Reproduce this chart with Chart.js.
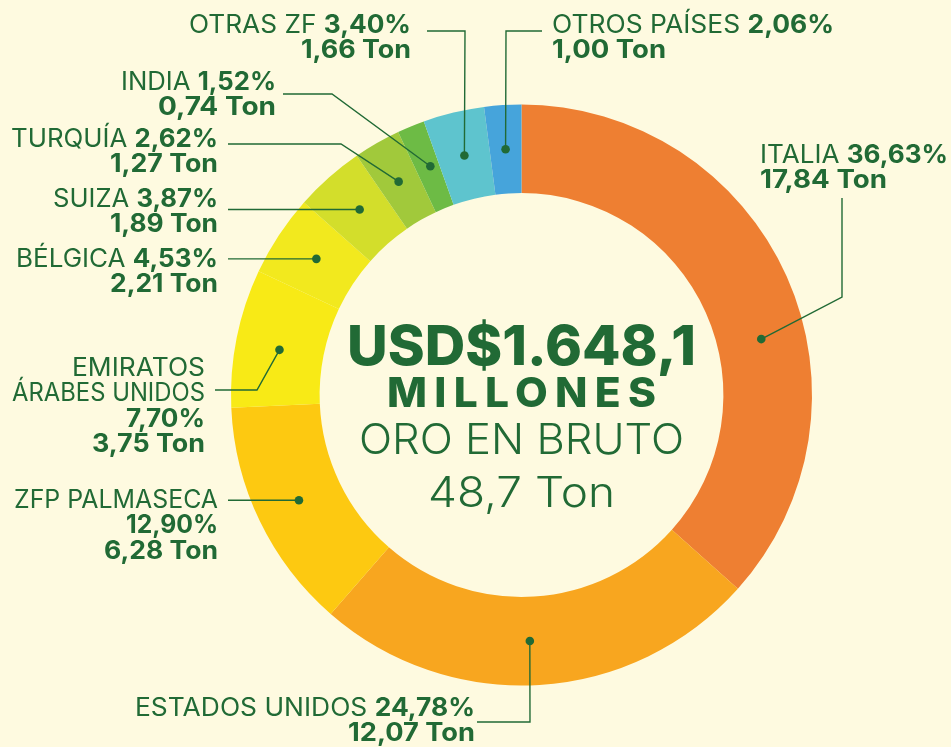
<!DOCTYPE html>
<html><head><meta charset="utf-8">
<script src="https://cdn.jsdelivr.net/npm/chart.js@4"></script>
<style>html,body{margin:0;padding:0;background:#FEFAE0;}canvas{display:block;}</style>
</head><body>
<canvas id="c" width="951" height="747"></canvas>
<script>
const categories = ['ITALIA', 'ESTADOS UNIDOS', 'ZFP PALMASECA', 'EMIRATOS ÁRABES UNIDOS', 'BÉLGICA', 'SUIZA', 'TURQUÍA', 'INDIA', 'OTRAS ZF', 'OTROS PAÍSES'];
const percentages = [36.63, 24.78, 12.90, 7.70, 4.53, 3.87, 2.62, 1.52, 3.40, 2.06];
const tons = [17.84, 12.07, 6.28, 3.75, 2.21, 1.89, 1.27, 0.74, 1.66, 1.00];
const sliceColors = ['#EE7F32', '#F8A61F', '#FDC911', '#F8EA16', '#F2E91E', '#D3DE2B', '#A1C93B', '#6DBB45', '#5EC4CE', '#46A4DB'];
const centerLines = ['USD$1.648,1', 'MILLONES', 'ORO EN BRUTO', '48,7 Ton'];

const GREEN = '#216A35';
const FONT = 'Inter, "Open Sans", sans-serif';
const fmt = v => v.toFixed(2).replace('.', ',');

// layout for annotation labels (positions only)
const labelLayout = [
  {align:'left',  x:760, y:163, w:[188,127], lead:[[842,198],[842,297]], frac:0.583},
  {align:'right', x:475, y:716, w:[340,127], lead:[[477,722],[530,722]], frac:0.518},
  {align:'right', x:218, y:508, mode:3, w:[204,92,114], lead:[[228,null]], frac:0.509},
  {align:'right', x:205, y:376, mode:4, w:[133,193,79,113], lead:[[215,390],[257,390]], frac:0.472},
  {align:'right', x:218, y:267, w:[202,108], lead:[[228,null]], frac:0.513},
  {align:'right', x:218, y:207, w:[165,108], lead:[[228,null]], frac:0.53},
  {align:'right', x:218, y:147, w:[207,108], lead:[[228,144],[341,144]], frac:0.49},
  {align:'right', x:276, y:90,  w:[155,118], lead:[[283,94],[332,94]], frac:0.62},
  {align:'right', x:411, y:33,  w:[222,110], lead:[[427,31],[465,31]], frac:0.51},
  {align:'left',  x:552, y:33,  w:[282,114], lead:[[542,31],[506,31]], frac:0.5}
];

function buildLines(i, mode) {
  const p = fmt(percentages[i]) + '%';
  const t = fmt(tons[i]) + ' Ton';
  if (mode === 4) {
    const parts = categories[i].split(' ');
    return [[{t:parts[0], b:false}], [{t:parts.slice(1).join(' '), b:false}], [{t:p, b:true}], [{t:t, b:true}]];
  }
  if (mode === 3) {
    return [[{t:categories[i], b:false}], [{t:p, b:true}], [{t:t, b:true}]];
  }
  return [[{t:categories[i] + ' ', b:false}, {t:p, b:true}], [{t:t, b:true}]];
}

function segFont(b, size) { return (b ? '700 ' : '400 ') + size + 'px ' + FONT; }

function drawFitted(ctx, segs, x, y, align, target, size) {
  let total = 0;
  const widths = segs.map(s => { ctx.font = segFont(s.b, size); const w = ctx.measureText(s.t).width; total += w; return w; });
  const sx = target / total;
  const left = align === 'right' ? x - target : (align === 'center' ? x - target / 2 : x);
  ctx.save();
  ctx.translate(left, y);
  ctx.scale(sx, 1);
  ctx.textAlign = 'left';
  ctx.textBaseline = 'alphabetic';
  ctx.fillStyle = GREEN;
  let cx = 0;
  segs.forEach((s, k) => { ctx.font = segFont(s.b, size); ctx.fillText(s.t, cx, 0); cx += widths[k]; });
  ctx.restore();
}

function drawCentered(ctx, text, weight, size, cx, y, target, spacing) {
  ctx.save();
  ctx.font = weight + ' ' + size + 'px ' + FONT;
  if (spacing) ctx.letterSpacing = spacing + 'px';
  let w = ctx.measureText(text).width;
  if (spacing) w -= spacing; // drop trailing spacing
  ctx.translate(cx - target / 2, y);
  ctx.scale(target / w, 1);
  ctx.fillStyle = GREEN;
  ctx.textAlign = 'left';
  ctx.textBaseline = 'alphabetic';
  ctx.fillText(text, 0, 0);
  ctx.restore();
}

const annotations = {
  id: 'annotations',
  beforeDraw(chart) {
    const ctx = chart.ctx;
    ctx.save();
    ctx.fillStyle = '#FEFAE0';
    ctx.fillRect(0, 0, chart.width, chart.height);
    ctx.restore();
  },
  afterDraw(chart) {
    const ctx = chart.ctx;
    const meta = chart.getDatasetMeta(0);
    const first = meta.data[0];
    const cx = first.x;
    labelLayout.forEach((L, i) => {
      const arc = meta.data[i];
      const ang = arc.startAngle + L.frac * (arc.endAngle - arc.startAngle);
      const r = (arc.innerRadius + arc.outerRadius) / 2;
      const dx = arc.x + Math.cos(ang) * r;
      const dy = arc.y + Math.sin(ang) * r;
      ctx.save();
      ctx.strokeStyle = GREEN;
      ctx.lineWidth = 1.4;
      ctx.beginPath();
      ctx.moveTo(L.lead[0][0], L.lead[0][1] == null ? dy : L.lead[0][1]);
      for (let k = 1; k < L.lead.length; k++) ctx.lineTo(L.lead[k][0], L.lead[k][1]);
      ctx.lineTo(dx, dy);
      ctx.stroke();
      ctx.fillStyle = GREEN;
      ctx.beginPath();
      ctx.arc(dx, dy, 4.3, 0, Math.PI * 2);
      ctx.fill();
      ctx.restore();
      const lines = buildLines(i, L.mode);
      lines.forEach((segs, k) => {
        drawFitted(ctx, segs, L.x, L.y + k * 25.3, L.align, L.w[k], 25);
      });
    });
    drawCentered(ctx, centerLines[0], '800', 55, cx, 365, 349);
    drawCentered(ctx, centerLines[1], '800', 41, cx, 407, 269, 7);
    drawCentered(ctx, centerLines[2], '300', 42, cx, 454, 325);
    drawCentered(ctx, centerLines[3], '300', 42, cx, 507, 187);
  }
};

new Chart(document.getElementById('c'), {
  type: 'doughnut',
  data: {
    labels: categories,
    datasets: [{
      data: percentages,
      backgroundColor: sliceColors,
      borderWidth: 0
    }]
  },
  options: {
    responsive: false,
    animation: false,
    cutout: '69.5%',
    layout: { padding: { left: 231, right: 139, top: 104, bottom: 61 } },
    plugins: { legend: { display: false }, tooltip: { enabled: false } }
  },
  plugins: [annotations]
});
</script>
</body></html>
